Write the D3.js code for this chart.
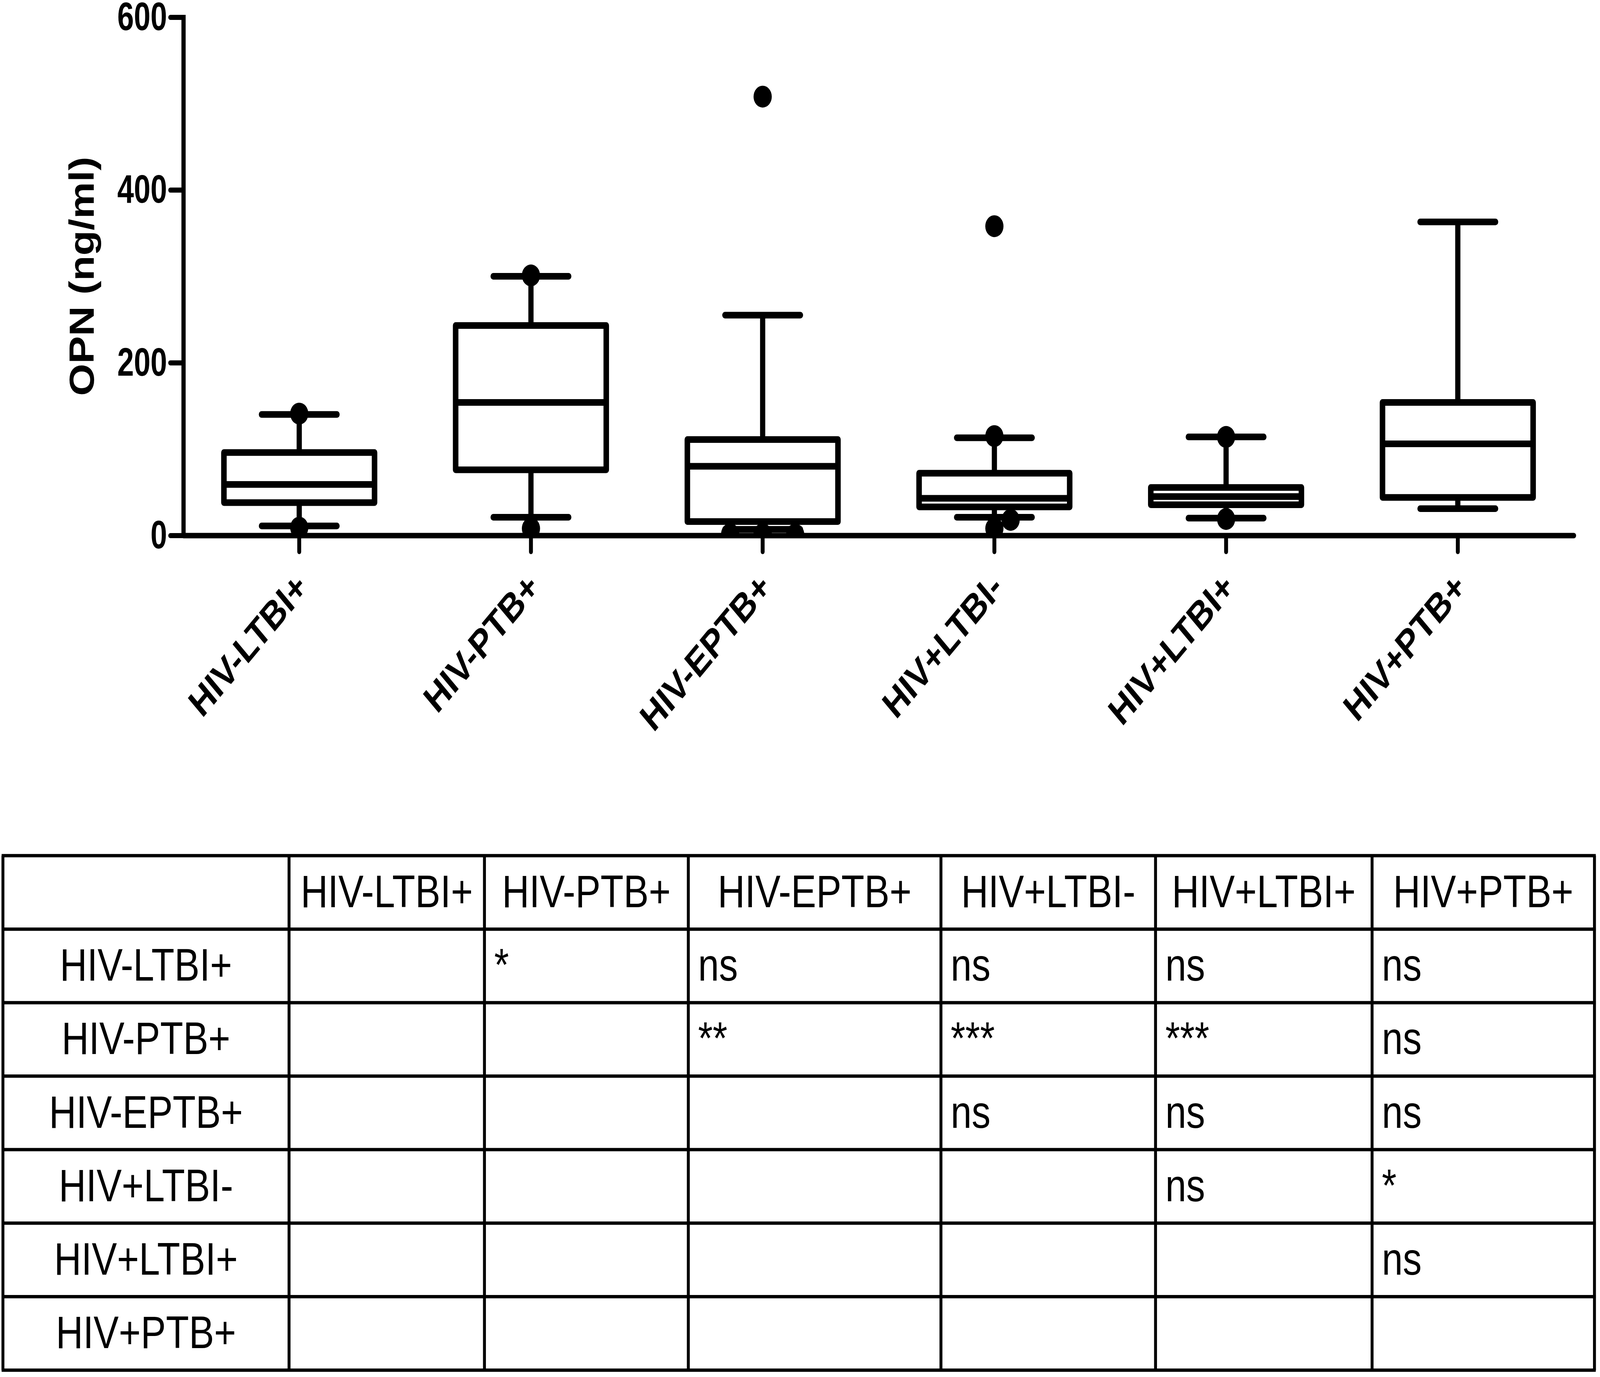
<!DOCTYPE html>
<html>
<head>
<meta charset="utf-8">
<script src="https://cdn.jsdelivr.net/npm/d3@7"></script>
<style>
  html, body { margin: 0; padding: 0; background: #fff; overflow: hidden; }
  #chart { width: 100vw; height: 100vh; }
  svg { display: block; width: 100%; height: 100%; }
</style>
</head>
<body>
<div id="chart"></div>
<script>
// box plot values (ng/ml)
const categories = ["HIV-LTBI+", "HIV-PTB+", "HIV-EPTB+", "HIV+LTBI-", "HIV+LTBI+", "HIV+PTB+"];
const whiskerLow  = [11, 21, 7, 21, 20, 31];
const q1          = [38, 76, 16, 33, 35.5, 44];
const median      = [59, 154, 80, 43, 45, 106];
const q3          = [96, 243, 111, 72, 55.5, 154];
const whiskerHigh = [140, 300, 255, 113, 114, 363];
const outliers = [
  [141, 9],
  [301, 8],
  [508, 1, 1, 1.5, 1, 1.5],
  [358, 115, 8, 18],
  [114, 19],
  []
];
const yTicks = [0, 200, 400, 600];
const yLabel = "OPN (ng/ml)";

// pairwise comparison table
const rowLabels = categories;
const colLabels = categories;
const significance = [
  ["", "*", "ns", "ns", "ns", "ns"],
  ["", "", "**", "***", "***", "ns"],
  ["", "", "", "ns", "ns", "ns"],
  ["", "", "", "", "ns", "*"],
  ["", "", "", "", "", "ns"],
  ["", "", "", "", "", ""]
];

// drawing space is the 4921x3526 figure, stretched onto whatever window we get
const W = 4921, H = 3526;
const plot = { left: 564, right: 4840, top: 44, bottom: 1371 };
const dotR = 28;
const font = "'Liberation Sans', Arial, sans-serif";

const svg = d3.select("#chart").append("svg")
  .attr("viewBox", `0 0 ${W} ${H}`)
  .attr("preserveAspectRatio", "none")
  .style("font-family", font);

svg.append("rect").attr("width", W).attr("height", H).attr("fill", "#fff");

const x = d3.scaleBand().domain(categories).range([plot.left, plot.right]).padding(0);
const y = d3.scaleLinear().domain([0, 600]).range([plot.bottom, plot.top]);

const boxW = x.bandwidth() * 0.65;
const capW = boxW / 2;

const data = categories.map((c, i) => ({
  cat: c, lo: whiskerLow[i], q1: q1[i], med: median[i], q3: q3[i], hi: whiskerHigh[i], pts: outliers[i]
}));

const boxes = svg.append("g")
  .selectAll("g")
  .data(data)
  .join("g")
  .attr("transform", d => `translate(${x(d.cat) + x.bandwidth() / 2},0)`)
  .attr("stroke", "#000")
  .attr("fill", "none")
  .attr("stroke-linecap", "round")
  .attr("stroke-linejoin", "round");

// whiskers
boxes.append("line")
  .attr("x1", 0).attr("x2", 0)
  .attr("y1", d => y(d.q3)).attr("y2", d => y(d.hi))
  .attr("stroke-width", 16);
boxes.append("line")
  .attr("x1", 0).attr("x2", 0)
  .attr("y1", d => y(d.q1)).attr("y2", d => y(d.lo))
  .attr("stroke-width", 16);
boxes.append("line")
  .attr("x1", -capW / 2).attr("x2", capW / 2)
  .attr("y1", d => y(d.hi)).attr("y2", d => y(d.hi))
  .attr("stroke-width", 17);
boxes.append("line")
  .attr("x1", -capW / 2).attr("x2", capW / 2)
  .attr("y1", d => y(d.lo)).attr("y2", d => y(d.lo))
  .attr("stroke-width", 17);

// box + median
boxes.append("rect")
  .attr("x", -boxW / 2)
  .attr("width", boxW)
  .attr("y", d => y(d.q3))
  .attr("height", d => y(d.q1) - y(d.q3))
  .attr("fill", "#fff")
  .attr("stroke-width", 17);
boxes.append("line")
  .attr("x1", -boxW / 2).attr("x2", boxW / 2)
  .attr("y1", d => y(d.med)).attr("y2", d => y(d.med))
  .attr("stroke-width", 17)
  .attr("stroke-linecap", "butt");

// points outside the whiskers, spread sideways when they overlap
svg.append("clipPath").attr("id", "plotClip")
  .append("rect")
  .attr("x", plot.left).attr("y", 0)
  .attr("width", plot.right - plot.left).attr("height", plot.bottom);

const step = 50;
const offsets = [0, step, -step, 2 * step, -2 * step, 3 * step, -3 * step];
const dots = [];
data.forEach(d => {
  const cx0 = x(d.cat) + x.bandwidth() / 2;
  const placed = [];
  d.pts.forEach(v => {
    const cy = y(v);
    let dx = offsets.find(o => placed.every(p => Math.hypot(p.dx - o, p.cy - cy) >= dotR * 1.8));
    if (dx === undefined) dx = 0;
    placed.push({ dx, cy });
    dots.push({ cx: cx0 + dx, cy });
  });
});

svg.append("g")
  .attr("clip-path", "url(#plotClip)")
  .selectAll("circle")
  .data(dots)
  .join("circle")
  .attr("cx", d => d.cx)
  .attr("cy", d => d.cy)
  .attr("r", dotR)
  .attr("fill", "#000");

// axes
const yAxis = svg.append("g")
  .attr("transform", `translate(${plot.left},0)`)
  .call(d3.axisLeft(y).tickValues(yTicks).tickSize(40).tickSizeOuter(0).tickPadding(10));
yAxis.select(".domain").attr("stroke-width", 13).attr("stroke-linecap", "square");
yAxis.selectAll(".tick line").attr("stroke-width", 13).attr("stroke-linecap", "round");
yAxis.selectAll(".tick text")
  .attr("font-size", 102)
  .attr("font-weight", "bold")
  .attr("font-family", font)
  .attr("fill", "#000")
  .each(function() {
    // the figure's digits are a little narrower than Arial Bold
    d3.select(this)
      .attr("textLength", this.getComputedTextLength() * 0.9)
      .attr("lengthAdjust", "spacingAndGlyphs");
  });

const xAxis = svg.append("g")
  .attr("transform", `translate(0,${plot.bottom})`)
  .call(d3.axisBottom(x).tickSize(42).tickSizeOuter(0));
xAxis.select(".domain").attr("stroke-width", 14).attr("stroke-linecap", "round");
xAxis.selectAll(".tick line").attr("stroke-width", 12).attr("stroke-linecap", "round");
xAxis.selectAll(".tick text")
  .attr("font-size", 100)
  .attr("font-weight", "bold")
  .attr("font-family", font)
  .attr("fill", "#000")
  .attr("text-anchor", "end")
  .attr("dy", null)
  .attr("y", null)
  .attr("transform", "translate(32,139) rotate(-45)");

svg.append("text")
  .attr("transform", `translate(288,${(plot.top + plot.bottom) / 2}) rotate(-90)`)
  .attr("text-anchor", "middle")
  .attr("font-size", 106)
  .attr("font-weight", "bold")
  .text(yLabel);

// comparison table
const colEdges = [9, 889, 1490, 2117, 2894, 3554, 4220, 4904];
const tableTop = 2191, rowH = 188.2;
const nRows = rowLabels.length + 1;
const tableBottom = tableTop + rowH * nRows;
const table = svg.append("g");

table.selectAll("line.h")
  .data(d3.range(nRows + 1))
  .join("line")
  .attr("class", "h")
  .attr("x1", colEdges[0] - 4).attr("x2", colEdges[colEdges.length - 1] + 4)
  .attr("y1", i => tableTop + i * rowH).attr("y2", i => tableTop + i * rowH)
  .attr("stroke", "#000").attr("stroke-width", 8.5);

table.selectAll("line.v")
  .data(colEdges)
  .join("line")
  .attr("class", "v")
  .attr("x1", d => d).attr("x2", d => d)
  .attr("y1", tableTop).attr("y2", tableBottom)
  .attr("stroke", "#000").attr("stroke-width", 9);

const cellFont = 116;
const baseOff = 132;

table.selectAll("text.col")
  .data(colLabels)
  .join("text")
  .attr("class", "col")
  .attr("x", (d, j) => (colEdges[j + 1] + colEdges[j + 2]) / 2)
  .attr("y", tableTop + baseOff)
  .attr("text-anchor", "middle")
  .attr("font-size", cellFont)
  .text(d => d);

table.selectAll("text.row")
  .data(rowLabels)
  .join("text")
  .attr("class", "row")
  .attr("x", (colEdges[0] + colEdges[1]) / 2)
  .attr("y", (d, i) => tableTop + (i + 1) * rowH + baseOff)
  .attr("text-anchor", "middle")
  .attr("font-size", cellFont)
  .text(d => d);

const cells = [];
significance.forEach((row, i) => row.forEach((s, j) => { if (s) cells.push({ i, j, s }); }));
table.selectAll("text.cell")
  .data(cells)
  .join("text")
  .attr("class", "cell")
  .attr("x", d => colEdges[d.j + 1] + 30)
  .attr("y", d => tableTop + (d.i + 1) * rowH + baseOff)
  .attr("font-size", cellFont)
  .text(d => d.s);
</script>
</body>
</html>
